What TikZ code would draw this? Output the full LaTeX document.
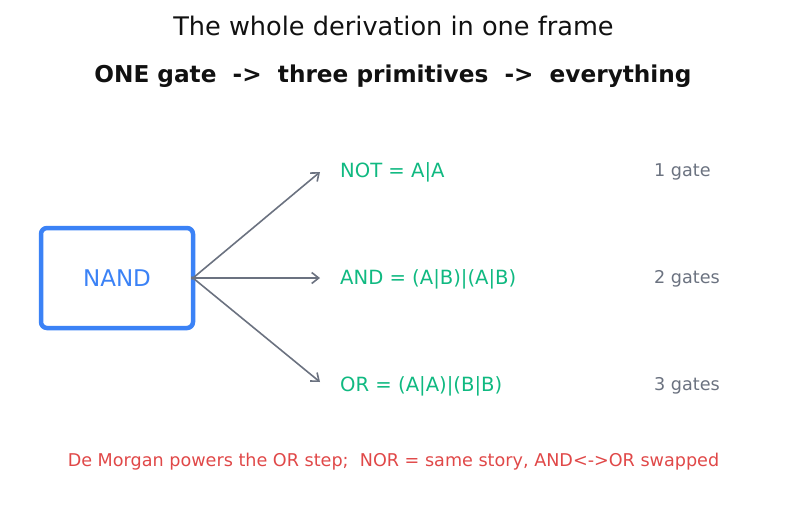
\documentclass[tikz,border=0pt]{standalone}
\usepackage{fontspec}
\setmainfont{DejaVu Sans}
\usetikzlibrary{arrows.meta}
\definecolor{nandblue}{HTML}{3B82F6}
\definecolor{primgreen}{HTML}{10B981}
\definecolor{arrowgray}{HTML}{6B7280}
\definecolor{notered}{HTML}{E04848}
\definecolor{titleblack}{HTML}{111111}
\tikzstyle{gatebox}=[draw=nandblue,line width=4.5pt,rounded corners=6pt,outer sep=0pt,minimum width=152pt,minimum height=100pt,text=nandblue,font=\fontsize{23}{27}\selectfont]
\tikzstyle{primitive}=[anchor=west,inner sep=0pt,text=primgreen,font=\fontsize{19.6}{23}\selectfont]
\tikzstyle{gatecount}=[anchor=west,inner sep=0pt,text=arrowgray,font=\fontsize{17.6}{21}\selectfont]
\tikzstyle{derive}=[draw=arrowgray,line width=1.6pt,-{Straight Barb[length=7pt,width=11pt]},shorten <=-2pt]
\newcommand{\primrow}[5]{% name, y position, arrow tip y, expression, gate count
  \node[primitive] (#1) at (340,#2) {#4};
  \node[gatecount] (#1count) at (654,#2) {#5};
  \coordinate (#1tip) at (320,#3);
}
\begin{document}
\begin{tikzpicture}[x=1pt,y=-1pt]
	\useasboundingbox (0,0) rectangle (787,512);
	% headings
	\node[text=titleblack,font=\fontsize{25.6}{30}\selectfont] (title) at (393.5,26) {The whole derivation in one frame};
	\node[text=titleblack,font=\fontsize{23.2}{27}\selectfont\bfseries] (subtitle) at (393,76) {ONE gate\ \ ->\ \ three primitives\ \ ->\ \ everything};
	% the one gate
	\node[gatebox] (nand) at (117,278) {NAND};
	% the three primitives
	\primrow{not}{172}{172}{NOT = A|A}{1 gate}
	\primrow{and}{279}{278}{AND = (A|B)|(A|B)}{2 gates}
	\primrow{or}{386}{382}{OR = (A|A)|(B|B)}{3 gates}
	\foreach \p in {not,and,or} {
	  \draw[derive] (nand.east) -- (\p tip);
	}
	\node[text=notered,font=\fontsize{17.6}{21}\selectfont] (demorgan) at (393.5,462) {De Morgan powers the OR step;\ \ NOR = same story, AND<->OR swapped};
\end{tikzpicture}
\end{document}
